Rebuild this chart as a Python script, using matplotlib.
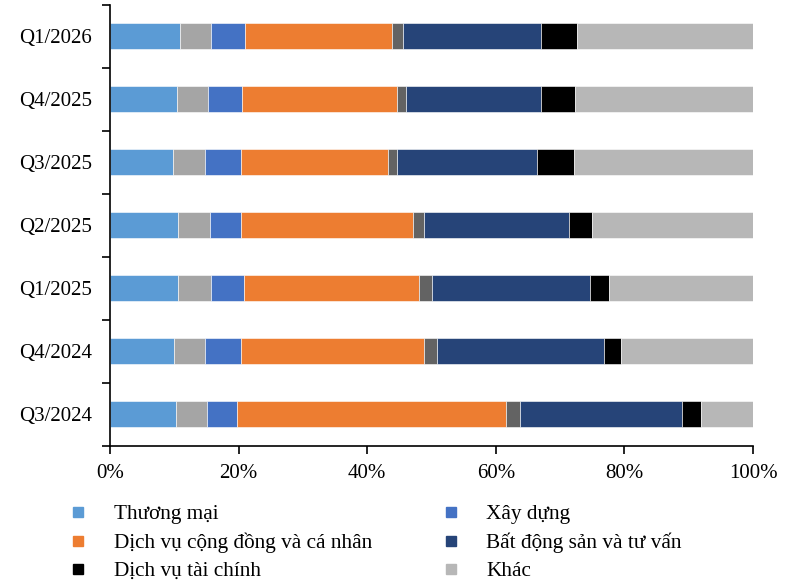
import matplotlib
matplotlib.use('Agg')
import matplotlib.pyplot as plt
from matplotlib.lines import Line2D
from matplotlib.ticker import FixedLocator, PercentFormatter

plt.rcParams['font.family'] = ['Liberation Serif', 'DejaVu Serif']

quarters = ['Q3/2024', 'Q4/2024', 'Q1/2025', 'Q2/2025', 'Q3/2025', 'Q4/2025', 'Q1/2026']

# shares (%) per quarter, bottom bar first
thuong_mai = [10.2, 10.0, 10.6, 10.6, 9.8, 10.5, 10.9]
gray_a = [4.9, 4.8, 5.1, 5.0, 5.0, 4.7, 4.8]          # unlabeled segment
xay_dung = [4.7, 5.6, 5.2, 4.8, 5.6, 5.4, 5.3]
cong_dong = [41.8, 28.4, 27.2, 26.8, 22.8, 24.1, 22.9]
gray_b = [2.1, 2.1, 2.0, 1.7, 1.5, 1.4, 1.6]          # unlabeled segment
bat_dong_san = [25.2, 26.0, 24.6, 22.5, 21.7, 20.9, 21.6]
tai_chinh = [3.0, 2.5, 2.9, 3.5, 5.8, 5.3, 5.6]
khac = [8.1, 20.6, 22.4, 25.1, 27.8, 27.7, 27.3]

series = [
    ('Thương mại', thuong_mai, '#5B9BD5'),
    ('_a', gray_a, '#A5A5A5'),
    ('Xây dựng', xay_dung, '#4472C4'),
    ('Dịch vụ cộng đồng và cá nhân', cong_dong, '#ED7D31'),
    ('_b', gray_b, '#636363'),
    ('Bất động sản và tư vấn', bat_dong_san, '#264478'),
    ('Dịch vụ tài chính', tai_chinh, '#000000'),
    ('Khác', khac, '#B7B7B7'),
]

fig = plt.figure(figsize=(7.91, 5.82), dpi=100)
ax = fig.add_axes([0.139, 0.2345, 0.813, 0.7575])

y = list(range(len(quarters)))
left = [0.0] * len(quarters)
for name, vals, col in series:
    ax.barh(y, vals, left=left, height=0.41, color=col, label=name,
            edgecolor='white', linewidth=0.4)
    left = [l + v for l, v in zip(left, vals)]

ax.set_xlim(0, 100)
ax.set_ylim(-0.5, len(quarters) - 0.5)
ax.set_yticks(y)
ax.set_yticklabels(quarters)
ax.yaxis.set_minor_locator(FixedLocator([i + 0.5 for i in range(-1, len(quarters))]))
ax.tick_params(axis='y', which='major', length=0, pad=13, labelsize=15)
ax.tick_params(axis='y', which='minor', length=6, width=1.2, direction='out')
ax.set_xticks([0, 20, 40, 60, 80, 100])
ax.xaxis.set_major_formatter(PercentFormatter(decimals=0))
ax.tick_params(axis='x', length=6, width=1.2, pad=7, labelsize=15)

for s in ['top', 'right']:
    ax.spines[s].set_visible(False)
for s in ['left', 'bottom']:
    ax.spines[s].set_linewidth(1.2)

# legend: two columns, row-major order as in the original
order = [0, 3, 6, 2, 5, 7]
handles = [Line2D([], [], marker='s', linestyle='none', markersize=7,
                  markerfacecolor=series[i][2], markeredgecolor=series[i][2])
           for i in order]
labels = [series[i][0] for i in order]
fig.legend(handles, labels, ncol=2, loc='upper left', bbox_to_anchor=(0.075, 0.148),
           frameon=False, fontsize=15.3, handlelength=1.0, handletextpad=1.17,
           columnspacing=3.2, labelspacing=0.39, borderaxespad=0)

fig.savefig('out.png', dpi=100)
